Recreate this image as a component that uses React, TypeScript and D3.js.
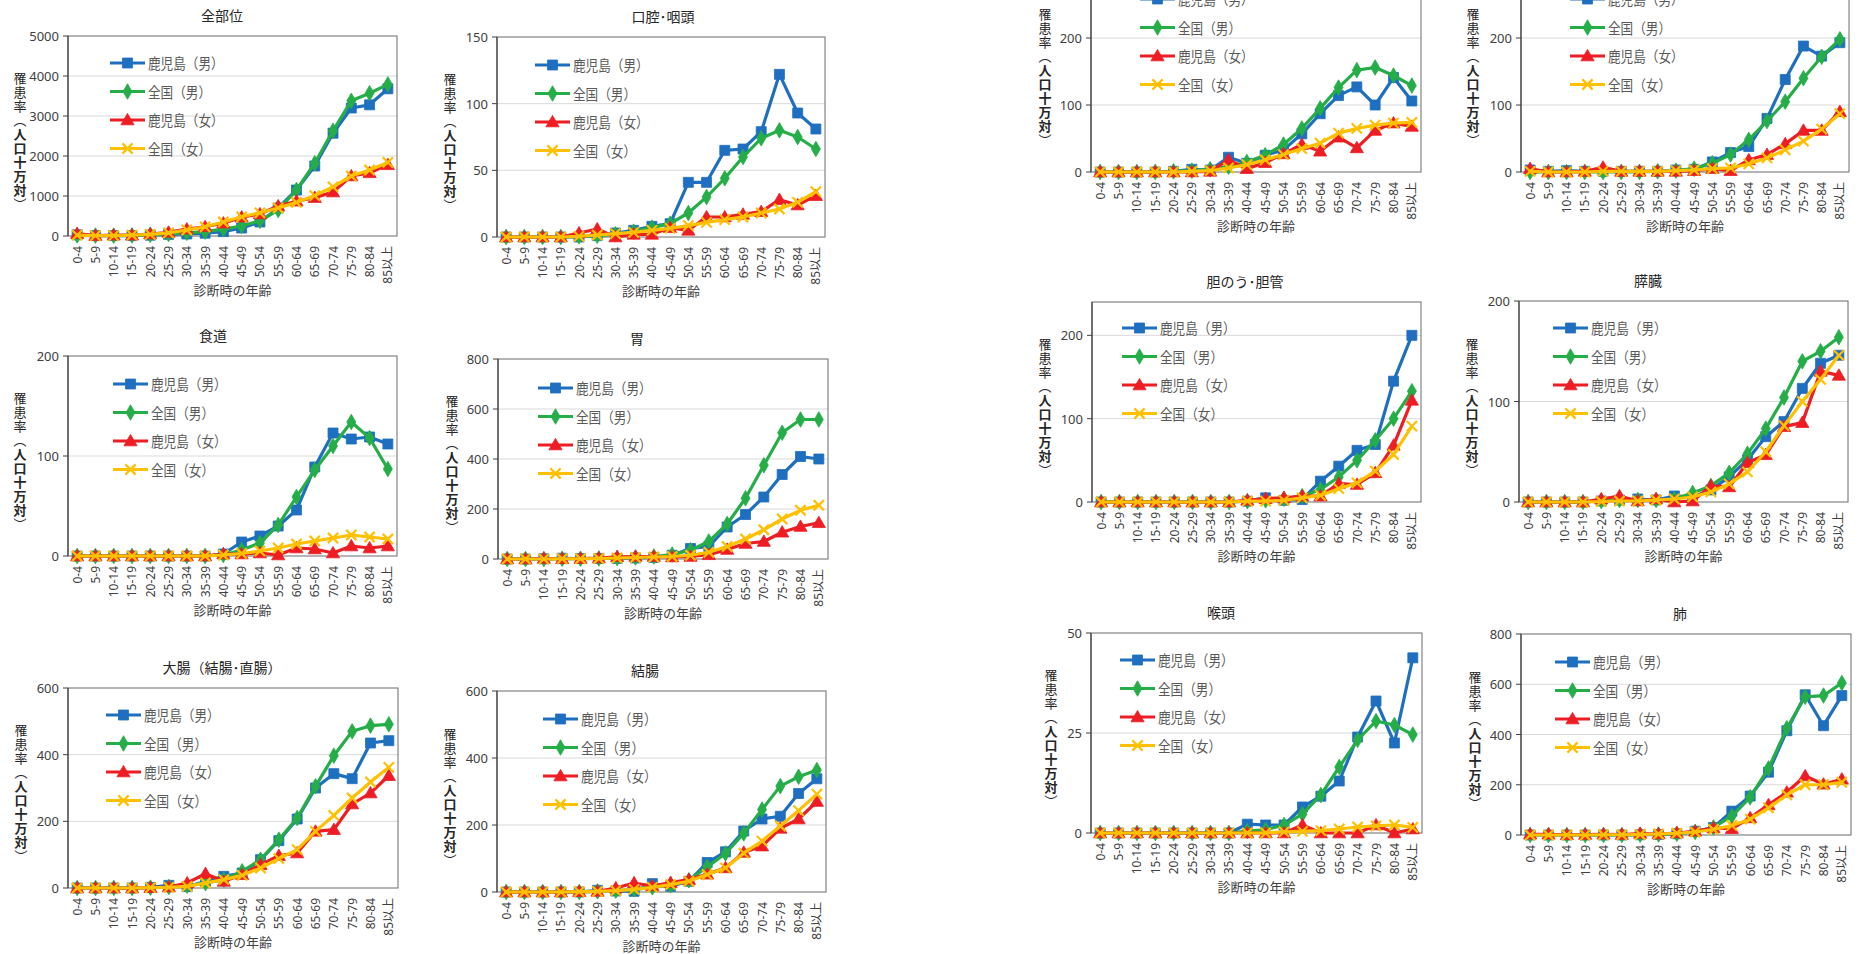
import React from 'react';
import * as d3 from 'd3';

const ages = ['0-4','5-9','10-14','15-19','20-24','25-29','30-34','35-39','40-44','45-49','50-54','55-59','60-64','65-69','70-74','75-79','80-84','85以上'];
const seriesNames = ['鹿児島（男）','全国（男）','鹿児島（女）','全国（女）'];
const seriesColors = ['#1f6fc0','#25ad48','#ee1d23','#ffc000'];
const yTitleHead = '罹患率︵';
const yTitleBody = '人口十万対';
const yTitleTail = '︶';

// 全部位
const allKM = [30,10,10,10,20,40,50,70,110,200,350,700,1150,1750,2570,3200,3280,3680];
const allNM = [15,10,10,15,30,50,80,110,170,250,380,650,1150,1820,2630,3380,3570,3790];
const allKF = [60,10,20,20,50,90,170,230,320,470,550,750,870,960,1100,1500,1580,1780];
const allNF = [20,10,10,20,40,80,150,230,350,480,580,700,840,1010,1230,1500,1650,1840];
// 口腔・咽頭
const oralKM = [0,0,0,0,0,1,3,5,8,10,41,41,65,66,79,122,93,81];
const oralNM = [0,0,0,0,0.5,1,2,4,7,10,18,30,44,60,74,80,75,66];
const oralKF = [0,0,0,0,3,6,0,2,2,7,5,15,15,17,19,28,24,31];
const oralNF = [0,0,0,0,0.5,1.5,2.5,3.5,5,6.5,8.5,11,13,15,18,21,26,34];
// 食道
const esoKM = [0,0,0,0,0,0,0,0,2,14,20,30,46,89,123,117,119,112];
const esoNM = [0,0,0,0,0,0,0,0,1,6,13,31,59,86,110,134,118,87];
const esoKF = [0,0,0,0,0,0,0,0,2,2,3,1,8,7,3,10,8,10];
const esoNF = [0,0,0,0,0,0,0,0,1,2.5,5,8,12,15,18,21,19,17];
// 胃
const stoKM = [0,0,1,3,2,2,2,4,6,15,42,50,128,178,248,338,410,400];
const stoNM = [0,0,0,1,1,2,4,6,10,18,35,70,140,243,375,505,558,558];
const stoKF = [0,0,2,1,2,4,9,10,10,8,10,17,38,62,70,107,130,145];
const stoNF = [0,0,0,1,1,2,4,6,8,10,15,27,50,80,117,160,195,215];
// 大腸（結腸・直腸）
const crcKM = [0,0,0,0,2,8,4,20,35,45,85,142,207,300,343,328,435,442];
const crcNM = [0,0,0,0,1,3,7,15,25,50,85,145,210,305,397,470,487,491];
const crcKF = [0,0,0,0,1,3,15,43,20,40,70,97,105,170,175,252,285,337];
const crcNF = [0,0,0,0,1,2,5,15,25,38,60,88,115,170,218,270,318,362];
// 結腸
const colKM = [0,0,0,0,0,5,3,2,25,17,32,88,120,182,218,226,294,338];
const colNM = [0,0,0,0,0,2,4,8,14,20,35,75,115,175,246,316,344,364];
const colKF = [0,0,0,0,1,2,12,27,18,28,37,53,72,118,137,190,218,270];
const colNF = [0,0,0,0,1,2,4,8,14,22,32,52,72,116,152,197,243,292];
// 上段左（タイトル欠け）
const p7KM = [0,0,0,0,1,4,3,22,13,25,33,57,87,114,127,100,141,106];
const p7NM = [0,0,0,0,1,2,4,8,15,25,41,65,95,126,152,156,144,129];
const p7KF = [0,0,0,0,0,0,1,18,5,14,27,41,31,52,36,62,73,68];
const p7NF = [0,0,0,0,0,1,2,6,11,18,26,35,43,58,65,70,73,74];
// 上段右（タイトル欠け）
const p8KM = [3,1,2,1,1,1,1,1,3,4,15,29,38,80,138,188,173,193];
const p8NM = [0,0,0,0,0,0,0,1,2,5,13,26,48,76,105,140,172,198];
const p8KF = [5,0,0,1,7,1,1,1,1,2,5,2,18,26,42,62,62,90];
const p8NF = [1,0,0,0,1,1,1,1,2,3,5,6,12,21,33,46,64,87];
// 胆のう・胆管
const gbKM = [0,0,0,0,0,0,0,0,1,5,2,3,25,43,62,69,145,200];
const gbNM = [0,0,0,0,0,0,0,0,1,2,4,7,15,30,50,74,100,133];
const gbKF = [0,0,0,0,0,0,0,0,2,4,5,7,7,22,21,35,68,122];
const gbNF = [0,0,0,0,0,0,0,0,1,1,2,5,8,16,23,37,57,91];
// 膵臓
const panKM = [0,0,0,0,1,2,3,2,6,5,12,25,42,65,80,113,138,146];
const panNM = [0,0,0,0,1,2,2,2,3,9,16,29,48,73,104,140,150,164];
const panKF = [0,0,0,0,3,6,1,3,0,1,16,15,39,47,75,79,130,126];
const panNF = [0,0,0,0,0.5,1,1,2,3,5,10,18,30,50,76,100,122,146];
// 喉頭
const larKM = [0,0,0,0,0,0,0,0,2.2,2,2,6.5,9.2,13,24,33,22.5,43.8];
const larNM = [0,0,0,0,0,0,0,0,0.5,0.8,2,4.7,9.5,16.5,23.3,28,27,24.6];
const larKF = [0,0,0,0,0,0,0,0,0,0,0,2,0,0,0,2,0,1];
const larNF = [0,0,0,0,0,0,0,0,0,0,0.3,0.4,0.6,1,1.5,1.8,2,1.4];
// 肺
const lungKM = [0,0,0,0,0,0,1,2,5,15,30,95,155,250,415,558,435,555];
const lungNM = [0,0,0,0,0,0,1,2,5,12,30,75,150,265,425,550,555,605];
const lungKF = [3,3,1,2,3,2,6,4,8,15,28,25,68,120,170,235,202,222];
const lungNF = [0,0,0,0,1,1,2,4,7,12,22,38,63,108,160,200,200,210];

type Panel = {
  title: string | null; series: number[][]; max: number; step: number;
  L: number; R: number; T: number; B: number; titleX: number; legX: number; legY: number; yTitleDx: number;
};

const panels: Panel[] = [
  { title: '全部位', series: [allKM, allNM, allKF, allNF], max: 5000, step: 1000, L: 68, R: 397, T: 36, B: 236, titleX: 222, legX: 110, legY: 63, yTitleDx: -48 },
  { title: '口腔･咽頭', series: [oralKM, oralNM, oralKF, oralNF], max: 150, step: 50, L: 497, R: 825, T: 37, B: 237, titleX: 663, legX: 535, legY: 65, yTitleDx: -47 },
  { title: '食道', series: [esoKM, esoNM, esoKF, esoNF], max: 200, step: 100, L: 68, R: 397, T: 356, B: 556, titleX: 213, legX: 113, legY: 384, yTitleDx: -48 },
  { title: '胃', series: [stoKM, stoNM, stoKF, stoNF], max: 800, step: 200, L: 498, R: 828, T: 359, B: 559, titleX: 637, legX: 538, legY: 388, yTitleDx: -46 },
  { title: '大腸（結腸･直腸）', series: [crcKM, crcNM, crcKF, crcNF], max: 600, step: 200, L: 68, R: 398, T: 688, B: 888, titleX: 222, legX: 106, legY: 715, yTitleDx: -47 },
  { title: '結腸', series: [colKM, colNM, colKF, colNF], max: 600, step: 200, L: 497, R: 826, T: 691, B: 892, titleX: 645, legX: 543, legY: 719, yTitleDx: -47 },
  { title: null, series: [p7KM, p7NM, p7KF, p7NF], max: 300, step: 100, L: 1091, R: 1421, T: -29, B: 172, titleX: 1256, legX: 1140, legY: -1, yTitleDx: -46 },
  { title: null, series: [p8KM, p8NM, p8KF, p8NF], max: 300, step: 100, L: 1521, R: 1849, T: -29, B: 172, titleX: 1685, legX: 1570, legY: -1, yTitleDx: -48 },
  { title: '胆のう･胆管', series: [gbKM, gbNM, gbKF, gbNF], max: 240, step: 100, L: 1092, R: 1421, T: 302, B: 502, titleX: 1245, legX: 1122, legY: 328, yTitleDx: -47 },
  { title: '膵臓', series: [panKM, panNM, panKF, panNF], max: 200, step: 100, L: 1519, R: 1848, T: 301, B: 502, titleX: 1648, legX: 1553, legY: 328, yTitleDx: -47 },
  { title: '喉頭', series: [larKM, larNM, larKF, larNF], max: 50, step: 25, L: 1091, R: 1422, T: 633, B: 833, titleX: 1221, legX: 1120, legY: 660, yTitleDx: -40 },
  { title: '肺', series: [lungKM, lungNM, lungKF, lungNF], max: 800, step: 200, L: 1521, R: 1851, T: 634, B: 835, titleX: 1680, legX: 1555, legY: 662, yTitleDx: -46 },
];

const FONT = '"Noto Sans", "Noto Sans CJK JP", sans-serif';
const CJK = '"Noto Sans CJK JP", sans-serif';
const symbolTypes = [d3.symbolSquare, d3.symbolDiamond, d3.symbolTriangle, d3.symbolTimes];
const symbolSizes = [100, 70, 75, 70];

function Marker({ i, x, y }: { i: number; x: number; y: number }) {
  const path = d3.symbol().type(symbolTypes[i]).size(symbolSizes[i])() || '';
  const c = seriesColors[i];
  if (i === 3) {
    return <path d={path} transform={`translate(${x},${y})`} fill="none" stroke={c} strokeWidth={2.2} />;
  }
  return <path d={path} transform={`translate(${x},${y + (i === 2 ? 1 : 0)})`} fill={c} stroke={c} strokeWidth={0.8} />;
}

function ChartPanel({ p }: { p: Panel }) {
  const x = d3.scaleBand<string>().domain(ages).range([p.L, p.R]).padding(0);
  const y = d3.scaleLinear().domain([0, p.max]).range([p.B, p.T]);
  const cx = (a: string) => (x(a) as number) + x.bandwidth() / 2;
  const ticks = d3.range(0, p.max + 0.001, p.step);
  const line = d3.line<number>().x((_, i) => cx(ages[i])).y(v => y(v));
  const midY = (p.T + p.B) / 2;
  const yx = p.L + p.yTitleDx;
  return (
    <g>
      {p.title && (
        <text x={p.titleX} y={p.T - 21} textAnchor="middle" dominantBaseline="central" fontSize={14} fill="#262626" fontFamily={FONT}>{p.title}</text>
      )}
      {ticks.filter(t => t > 0 && t < p.max).map(t => (
        <line key={'g' + t} x1={p.L} x2={p.R} y1={y(t)} y2={y(t)} stroke="#d9d9d9" strokeWidth={1} />
      ))}
      <rect x={p.L} y={p.T} width={p.R - p.L} height={p.B - p.T} fill="none" stroke="#6b6b6b" strokeWidth={1} />
      <line x1={p.L} x2={p.L} y1={p.T} y2={p.B} stroke="#404040" strokeWidth={1.2} />
      {ticks.map(t => (
        <g key={'t' + t}>
          <line x1={p.L - 5} x2={p.L} y1={y(t)} y2={y(t)} stroke="#404040" strokeWidth={1} />
          {y(t) > 6 && (
            <text x={p.L - 9} y={y(t)} textAnchor="end" dominantBaseline="central" fontSize={13} fill="#404040" fontFamily={FONT}>{t}</text>
          )}
        </g>
      ))}
      {ages.map(a => (
        <text key={a} transform={`translate(${cx(a)},${p.B + 10}) rotate(-90)`} textAnchor="end" dominantBaseline="central" fontSize={12} fill="#404040" fontFamily={FONT}>{a}</text>
      ))}
      <text x={(p.L + p.R) / 2} y={p.B + 54} textAnchor="middle" dominantBaseline="central" fontSize={13} fill="#404040" fontFamily={FONT}>診断時の年齢</text>
      <text x={yx} y={midY + 6} textAnchor="middle" fontSize={13} fill="#262626" fontFamily={CJK}
        style={{ writingMode: 'vertical-rl', textOrientation: 'upright', letterSpacing: '1px' } as any}>
        {yTitleHead}<tspan fontWeight="bold">{yTitleBody}</tspan>{yTitleTail}
      </text>
      {p.series.map((vals, i) => (
        <g key={'s' + i}>
          <path d={line(vals) || ''} fill="none" stroke={seriesColors[i]} strokeWidth={3.2} strokeLinejoin="round" />
          {vals.map((v, j) => <Marker key={j} i={i} x={cx(ages[j])} y={y(v)} />)}
        </g>
      ))}
      {seriesNames.map((n, i) => {
        const ly = p.legY + i * 28.5;
        return (
          <g key={'l' + i}>
            <line x1={p.legX} x2={p.legX + 35} y1={ly} y2={ly} stroke={seriesColors[i]} strokeWidth={3.2} />
            <Marker i={i} x={p.legX + 17.5} y={ly} />
            <text transform={`translate(${p.legX + 38},${ly}) scale(0.87,1)`} dominantBaseline="central" fontSize={14.5} fill="#595959" fontFamily={CJK}>{n}</text>
          </g>
        );
      })}
    </g>
  );
}

export default function App() {
  return (
    <div style={{ position: 'absolute', left: 0, top: 0 }}>
      <svg width={1870} height={954} style={{ display: 'block', background: '#fff' }}>
        <rect x={0} y={0} width={1870} height={954} fill="#fff" />
        {panels.map((p, i) => <ChartPanel key={i} p={p} />)}
      </svg>
    </div>
  );
}
